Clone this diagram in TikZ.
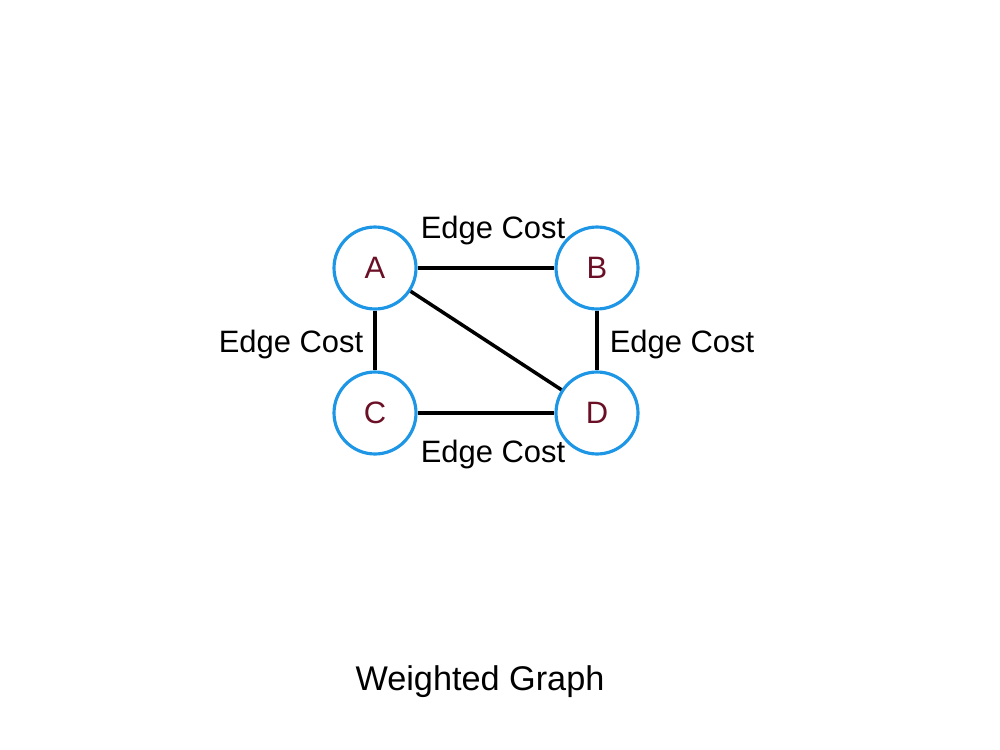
\documentclass[tikz,border=0pt]{standalone}
\usepackage{fontspec}
\setmainfont{Liberation Sans}
\definecolor{NodeBlue}{HTML}{1E96E6}
\definecolor{NodeText}{HTML}{6A0F25}
\usepackage{tikz}

\begin{document}
\begin{tikzpicture}[x=0.02cm,y=-0.02cm,font=\fontsize{17.6}{20}\selectfont]
  \tikzset{
    vertex/.style={circle,draw=NodeBlue,line width=1.8pt,fill=white,
      minimum size=1.64cm,inner sep=0pt,text=NodeText},
    link/.style={line width=2pt,black},
    cost/.style={inner sep=0pt}
  }
  \useasboundingbox (0,0) rectangle (1000,750);

  % Vertices
  \node[vertex] (A) at (375,268) {A};
  \node[vertex] (B) at (597,268) {B};
  \node[vertex] (C) at (375,413) {C};
  \node[vertex] (D) at (597,413) {D};

  % Edges
  \draw[link] (A) -- (B);
  \draw[link] (A) -- (C);
  \draw[link] (A) -- (D);
  \draw[link] (B) -- (D);
  \draw[link] (C) -- (D);

  % Edge costs
  \node[cost] (costAB) at (493,231) {Edge Cost};
  \node[cost] (costAC) at (291,345) {Edge Cost};
  \node[cost] (costBD) at (682,345) {Edge Cost};
  \node[cost] (costCD) at (493,454) {Edge Cost};

  % Caption
  \node[font=\fontsize{19.5}{22}\selectfont] (title) at (480,682) {Weighted Graph};
\end{tikzpicture}
\end{document}
